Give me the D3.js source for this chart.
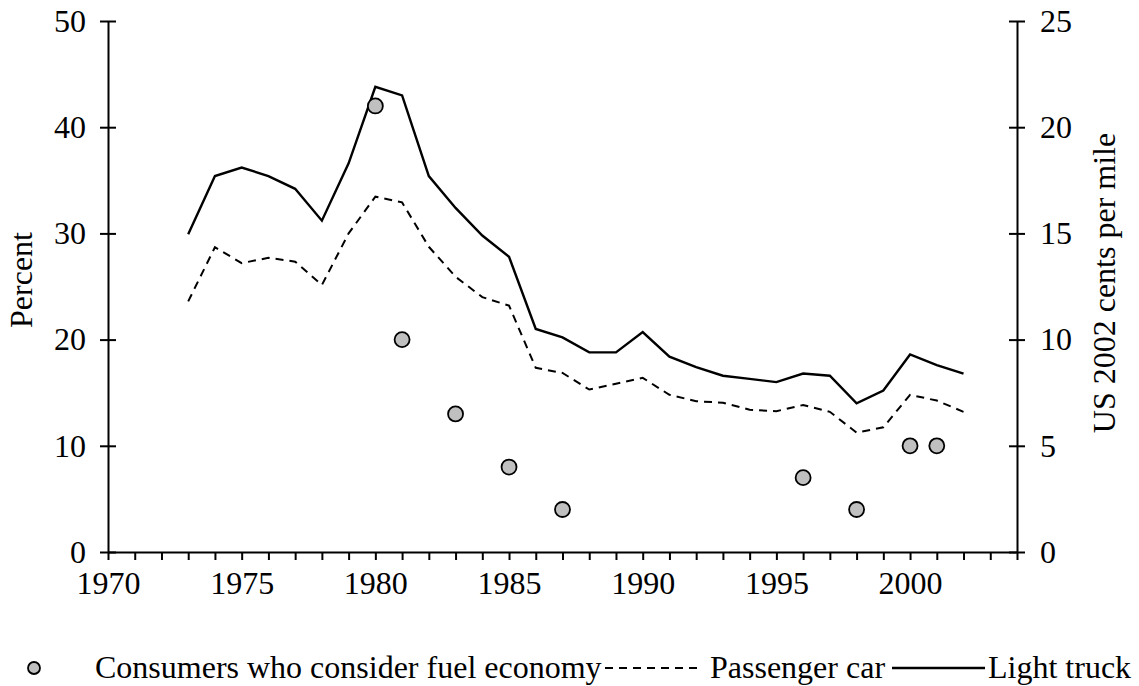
<!DOCTYPE html>
<html>
<head>
<meta charset="utf-8">
<script src="https://cdn.jsdelivr.net/npm/d3@7"></script>
<style>
  body { margin: 0; background: #fff; }
  svg text { font-family: "Liberation Serif", "Times New Roman", serif; fill: #000; }
</style>
</head>
<body>
<div id="chart"></div>
<script>
// cents per mile (right axis)
const years = [1973, 1974, 1975, 1976, 1977, 1978, 1979, 1980, 1981, 1982, 1983, 1984, 1985, 1986, 1987,
  1988, 1989, 1990, 1991, 1992, 1993, 1994, 1995, 1996, 1997, 1998, 1999, 2000, 2001, 2002];
const lightTruck = [14.96, 17.7, 18.1, 17.7, 17.1, 15.6, 18.3, 21.9, 21.5, 17.7, 16.2, 14.9, 13.9, 10.5, 10.1,
  9.4, 9.4, 10.35, 9.2, 8.7, 8.3, 8.15, 8.0, 8.4, 8.3, 7.0, 7.6, 9.3, 8.8, 8.4];
const passengerCar = [11.8, 14.35, 13.6, 13.85, 13.67, 12.57, 15.0, 16.73, 16.46, 14.37, 12.96, 12.0, 11.6, 8.67, 8.43,
  7.65, 7.92, 8.2, 7.4, 7.1, 7.03, 6.7, 6.63, 6.92, 6.6, 5.62, 5.87, 7.4, 7.13, 6.6];
// percent (left axis)
const surveyYears = [1980, 1981, 1983, 1985, 1987, 1996, 1998, 2000, 2001];
const surveyPercent = [42, 20, 13, 8, 4, 7, 4, 10, 10];

const leftTicks = [0, 10, 20, 30, 40, 50];
const rightTicks = [0, 5, 10, 15, 20, 25];

const width = 1139;
const height = 686;
const margin = { top: 21, right: 122, bottom: 134, left: 108 };
const fontSize = 32;
const serif = "Liberation Serif, Times New Roman, serif";

const svg = d3.select("#chart")
  .append("svg")
  .attr("width", width)
  .attr("height", height)
  .attr("font-family", serif);

const x = d3.scaleLinear().domain([1970, 2004]).range([margin.left, width - margin.right]);
const yLeft = d3.scaleLinear().domain([0, 50]).range([height - margin.bottom, margin.top]);
const yRight = d3.scaleLinear().domain([0, 25]).range([height - margin.bottom, margin.top]);

const styleAxis = (g) => {
  g.attr("font-family", serif).attr("font-size", fontSize);
  g.select(".domain").attr("stroke", "#000").attr("stroke-width", 2);
  g.selectAll(".tick line").attr("stroke", "#000").attr("stroke-width", 2);
  g.selectAll(".tick text").attr("font-size", fontSize);
};

// left axis, ticks crossing the line
const leftAxis = svg.append("g")
  .attr("transform", `translate(${margin.left},0)`)
  .call(d3.axisLeft(yLeft).tickValues(leftTicks).tickSize(8).tickPadding(14).tickSizeOuter(0))
  .call(styleAxis);
leftAxis.selectAll(".tick line").attr("x1", 8);

const rightAxis = svg.append("g")
  .attr("transform", `translate(${width - margin.right},0)`)
  .call(d3.axisRight(yRight).tickValues(rightTicks).tickSize(8).tickPadding(15).tickSizeOuter(0))
  .call(styleAxis);
rightAxis.selectAll(".tick line").attr("x1", -8);

svg.append("g")
  .attr("transform", `translate(0,${height - margin.bottom})`)
  .call(d3.axisBottom(x)
    .tickValues(d3.range(1970, 2005))
    .tickFormat((d) => (d % 5 === 0 ? d : ""))
    .tickSize(8).tickPadding(11).tickSizeOuter(0))
  .call(styleAxis);

// axis titles
svg.append("text")
  .text("Percent")
  .attr("transform", `translate(21,280) rotate(-90)`)
  .attr("text-anchor", "middle")
  .attr("dy", "0.35em")
  .attr("font-size", fontSize);

svg.append("text")
  .text("US 2002 cents per mile")
  .attr("transform", `translate(1104,283) rotate(-90)`)
  .attr("text-anchor", "middle")
  .attr("dy", "0.35em")
  .attr("font-size", fontSize);

// lines
const line = (vals) => d3.line()
  .x((d, i) => x(years[i]))
  .y((d) => yRight(d))(vals);

svg.append("path")
  .attr("d", line(passengerCar))
  .attr("fill", "none")
  .attr("stroke", "#000")
  .attr("stroke-width", 2)
  .attr("stroke-dasharray", "8 6");

svg.append("path")
  .attr("d", line(lightTruck))
  .attr("fill", "none")
  .attr("stroke", "#000")
  .attr("stroke-width", 2.4);

svg.append("g")
  .selectAll("circle")
  .data(surveyYears)
  .join("circle")
  .attr("cx", (d) => x(d))
  .attr("cy", (d, i) => yLeft(surveyPercent[i]))
  .attr("r", 7.5)
  .attr("fill", "#c0c0c0")
  .attr("stroke", "#000")
  .attr("stroke-width", 1.8);

// legend
const ly = 668;
const legend = svg.append("g").attr("font-size", fontSize);
legend.append("circle")
  .attr("cx", 34).attr("cy", ly).attr("r", 6)
  .attr("fill", "#c0c0c0").attr("stroke", "#000").attr("stroke-width", 1.8);
legend.append("text").text("Consumers who consider fuel economy")
  .attr("x", 95).attr("y", ly).attr("dy", "0.32em");
legend.append("line")
  .attr("x1", 605).attr("x2", 698).attr("y1", ly).attr("y2", ly)
  .attr("stroke", "#000").attr("stroke-width", 2).attr("stroke-dasharray", "8 6");
legend.append("text").text("Passenger car")
  .attr("x", 710).attr("y", ly).attr("dy", "0.32em");
legend.append("line")
  .attr("x1", 892).attr("x2", 985).attr("y1", ly).attr("y2", ly)
  .attr("stroke", "#000").attr("stroke-width", 2.4);
legend.append("text").text("Light truck")
  .attr("x", 988).attr("y", ly).attr("dy", "0.32em");
</script>
</body>
</html>
